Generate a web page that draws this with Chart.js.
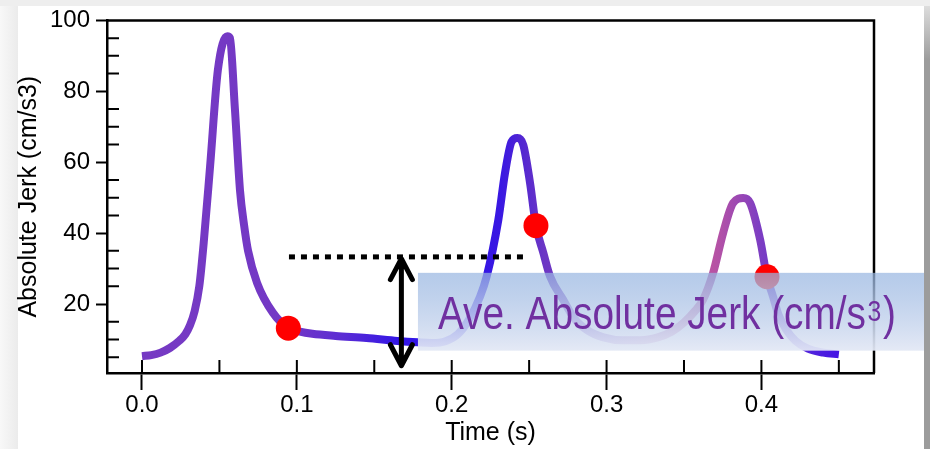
<!DOCTYPE html>
<html lang="en">
<head>
<meta charset="UTF-8">
<title>Absolute Jerk</title>
<script src="https://cdn.jsdelivr.net/npm/chart.js"></script>
<style>
  html, body { margin: 0; padding: 0; background: #fff; overflow: hidden; }
  #wrap { width: 930px; height: 449px; }
</style>
</head>
<body>
<div id="wrap"><canvas id="jerk-chart" width="930" height="449"></canvas></div>
<script>
// jerk trace: time (s) and absolute jerk (cm/s3)
const time = [0.000, 0.006, 0.012, 0.018, 0.024, 0.028, 0.031, 0.034, 0.037, 0.040,
  0.044, 0.049, 0.0551, 0.0568, 0.060, 0.0633, 0.066, 0.0685, 0.0743, 0.0846,
  0.0945, 0.102, 0.110, 0.125, 0.145, 0.165, 0.178, 0.187, 0.196, 0.204,
  0.211, 0.2183, 0.2226, 0.2301, 0.2344, 0.2387, 0.2424, 0.2462, 0.2506, 0.2544,
  0.2592, 0.2635, 0.272, 0.279, 0.288, 0.298, 0.310, 0.322, 0.333, 0.342,
  0.350, 0.357, 0.3623, 0.3688, 0.3753, 0.3817, 0.3882, 0.3927, 0.3992, 0.4036,
  0.4075, 0.411, 0.416, 0.422, 0.430, 0.440, 0.450];
const jerk = [5.3, 5.6, 6.3, 7.6, 9.6, 11.5, 14.0, 18.0, 25.0, 38.0,
  59.0, 86.0, 95.5, 95.0, 75.0, 52.0, 42.0, 35.0, 26.0, 17.5,
  13.2, 12.2, 11.6, 11.0, 10.4, 9.6, 9.2, 9.0, 9.5, 11.5,
  15.5, 22.1, 27.8, 43.7, 56.9, 65.8, 66.8, 64.9, 54.1, 42.1,
  34.4, 27.8, 21.2, 16.0, 12.5, 10.6, 9.8, 9.8, 10.6, 12.2,
  14.8, 18.0, 21.2, 28.8, 40.1, 48.5, 49.9, 48.5, 38.1, 27.7,
  22.1, 17.0, 12.8, 9.6, 7.4, 6.3, 5.8];

// red markers on the trace
const dotTime = [0.0945, 0.2544, 0.4036];
const dotJerk = [13.2, 42.1, 27.7];

// average level (dotted line) and the double arrow below it
const aveJerk = 33.3;
const aveSpan = [0.0949, 0.2467];
const arrowTime = 0.1675;
const arrowSpan = [2.6, 32.8];

// label box: left edge (s), bottom and top (cm/s3)
const boxTime = 0.1782;
const boxSpan = [6.85, 28.8];

// colour along the trace, by time
const traceStops = [
  [0.000, '#763AC3'], [0.095, '#7338C5'], [0.130, '#5A2CD4'], [0.165, '#3416E6'],
  [0.200, '#2C12E8'], [0.232, '#3A18E2'], [0.245, '#5226D2'], [0.260, '#6C36C4'],
  [0.300, '#7A3CBE'], [0.355, '#C8569A'], [0.372, '#B452A6'], [0.388, '#9646B6'],
  [0.398, '#7E3EC2'], [0.410, '#6E38C8'], [0.430, '#5224DC'], [0.450, '#4414E4']
];

const FONT = '"Liberation Sans", Arial, sans-serif';

function traceGradient(context) {
  const chart = context.chart;
  const area = chart.chartArea;
  if (!area) return traceStops[0][1];
  const xs = chart.scales.x;
  const g = chart.ctx.createLinearGradient(area.left, 0, area.right, 0);
  traceStops.forEach(([t, c]) => {
    const f = (xs.getPixelForValue(t) - area.left) / (area.right - area.left);
    g.addColorStop(Math.min(Math.max(f, 0), 1), c);
  });
  return g;
}

const decor = {
  id: 'decor',
  beforeDraw(chart) {
    const ctx = chart.ctx;
    ctx.save();
    ctx.fillStyle = '#ffffff';
    ctx.fillRect(0, 0, chart.width, chart.height);
    let g = ctx.createLinearGradient(0, 0, 18, 0);
    g.addColorStop(0, '#f8f8f8');
    g.addColorStop(1, '#ebebeb');
    ctx.fillStyle = g;
    ctx.fillRect(0, 0, 18, chart.height);
    ctx.fillStyle = '#eeeeee';
    ctx.fillRect(0, 0, chart.width, 6);
    ctx.restore();
  },
  beforeDatasetsDraw(chart) {
    const ctx = chart.ctx;
    const a = chart.chartArea;
    const xs = chart.scales.x, ys = chart.scales.y;
    ctx.save();
    ctx.strokeStyle = '#000';
    // frame top and right
    ctx.lineWidth = 2.5;
    ctx.beginPath();
    ctx.moveTo(a.left, a.top);
    ctx.lineTo(a.right, a.top);
    ctx.lineTo(a.right, a.bottom);
    ctx.stroke();
    // inner ticks on the time axis, every 0.05 s
    ctx.lineWidth = 2;
    ctx.beginPath();
    for (let i = 0; i <= 9; i++) {
      const px = xs.getPixelForValue(i * 0.05);
      ctx.moveTo(px, a.bottom);
      ctx.lineTo(px, a.bottom - 13);
    }
    // minor inner ticks on the jerk axis, every 5
    for (let v = 5; v < 100; v += 5) {
      if (v % 20 === 0) continue;
      const py = ys.getPixelForValue(v);
      ctx.moveTo(a.left, py);
      ctx.lineTo(a.left + 12, py);
    }
    ctx.stroke();
    ctx.restore();
  },
  afterDatasetsDraw(chart) {
    const ctx = chart.ctx;
    const xs = chart.scales.x, ys = chart.scales.y;
    ctx.save();
    // double arrow
    const ax = xs.getPixelForValue(arrowTime);
    const aTop = ys.getPixelForValue(arrowSpan[1]);
    const aBot = ys.getPixelForValue(arrowSpan[0]);
    ctx.strokeStyle = '#000';
    ctx.lineWidth = 5;
    ctx.lineCap = 'round';
    ctx.lineJoin = 'round';
    ctx.beginPath();
    ctx.moveTo(ax, aTop + 2);
    ctx.lineTo(ax, aBot - 2);
    ctx.moveTo(ax - 11, aTop + 21);
    ctx.lineTo(ax, aTop);
    ctx.lineTo(ax + 11, aTop + 21);
    ctx.moveTo(ax - 11, aBot - 21);
    ctx.lineTo(ax, aBot);
    ctx.lineTo(ax + 11, aBot - 21);
    ctx.stroke();

    // translucent label box
    const bx = xs.getPixelForValue(boxTime);
    const bTop = ys.getPixelForValue(boxSpan[1]);
    const bBot = ys.getPixelForValue(boxSpan[0]);
    const g = ctx.createLinearGradient(0, bTop, 0, bBot);
    g.addColorStop(0, 'rgba(152,182,225,0.72)');
    g.addColorStop(1, 'rgba(227,232,245,0.95)');
    ctx.fillStyle = g;
    ctx.fillRect(bx, bTop, chart.width - bx, bBot - bTop);

    // label text, narrow face
    const main = 'Ave. Absolute Jerk (cm/s';
    const tx = bx + 20, ty = bTop + 56;
    ctx.fillStyle = '#7030A0';
    ctx.textBaseline = 'alphabetic';
    ctx.textAlign = 'left';
    ctx.font = '47px ' + FONT;
    const w = ctx.measureText(main).width;
    const sx = 428 / w;
    ctx.translate(tx, ty);
    ctx.scale(sx, 1);
    ctx.fillText(main, 0, 0);
    ctx.font = '30px ' + FONT;
    ctx.fillText('3', w + 2, -8);
    const w3 = ctx.measureText('3').width;
    ctx.font = '47px ' + FONT;
    ctx.fillText(')', w + w3 + 4, 0);
    ctx.restore();
  },
  afterDraw(chart) {
    const ctx = chart.ctx;
    ctx.save();
    const g = ctx.createLinearGradient(0, 0, 0, 60);
    g.addColorStop(0, '#e4e4e4');
    g.addColorStop(1, '#9c9c9c');
    ctx.fillStyle = g;
    ctx.fillRect(924, 6, chart.width - 924, chart.height - 6);
    ctx.restore();
  }
};

const ctx = document.getElementById('jerk-chart').getContext('2d');
new Chart(ctx, {
  type: 'line',
  data: {
    datasets: [
      {
        label: 'markers',
        data: dotTime.map((t, i) => ({ x: t, y: dotJerk[i] })),
        showLine: false,
        pointRadius: 12.5,
        pointBorderWidth: 0,
        pointBackgroundColor: '#ff0000',
        pointBorderColor: '#ff0000',
        order: 0
      },
      {
        label: 'average',
        data: aveSpan.map(t => ({ x: t, y: aveJerk })),
        borderColor: '#000',
        borderWidth: 5,
        borderDash: [6, 6],
        borderCapStyle: 'butt',
        pointRadius: 0,
        order: 1
      },
      {
        label: 'jerk',
        data: time.map((t, i) => ({ x: t, y: jerk[i] })),
        borderColor: traceGradient,
        borderWidth: 8,
        borderJoinStyle: 'round',
        cubicInterpolationMode: 'monotone',
        pointRadius: 0,
        order: 2
      }
    ]
  },
  options: {
    responsive: false,
    animation: false,
    devicePixelRatio: 1,
    layout: { padding: { top: 20, right: 56, left: 0, bottom: 0 } },
    plugins: { legend: { display: false }, tooltip: { enabled: false } },
    scales: {
      x: {
        type: 'linear',
        min: -0.0226,
        max: 0.4727,
        afterFit: s => { s.height = 76; },
        border: { display: true, color: '#000', width: 2.5 },
        grid: { display: true, drawOnChartArea: false, drawTicks: true, tickLength: 17, tickWidth: 2, tickColor: '#000' },
        ticks: {
          stepSize: 0.1,
          includeBounds: false,
          color: '#000',
          padding: 1,
          maxRotation: 0,
          font: { family: FONT, size: 24 },
          callback: v => Number(v).toFixed(1)
        },
        title: { display: true, text: 'Time (s)', color: '#000', font: { family: FONT, size: 25 }, padding: { top: 0, bottom: 1 } }
      },
      y: {
        type: 'linear',
        min: 0.55,
        max: 100,
        afterFit: s => { s.width = 107; },
        border: { display: true, color: '#000', width: 2.5 },
        grid: { display: true, drawOnChartArea: false, drawTicks: true, tickLength: 11, tickWidth: 2, tickColor: '#000' },
        ticks: {
          stepSize: 20,
          includeBounds: false,
          color: '#000',
          padding: 6,
          font: { family: FONT, size: 24 }
        },
        title: { display: true, text: 'Absolute Jerk (cm/s3)', color: '#000', font: { family: FONT, size: 25 }, padding: { top: 14, bottom: 0 } }
      }
    }
  },
  plugins: [decor]
});
</script>
</body>
</html>
